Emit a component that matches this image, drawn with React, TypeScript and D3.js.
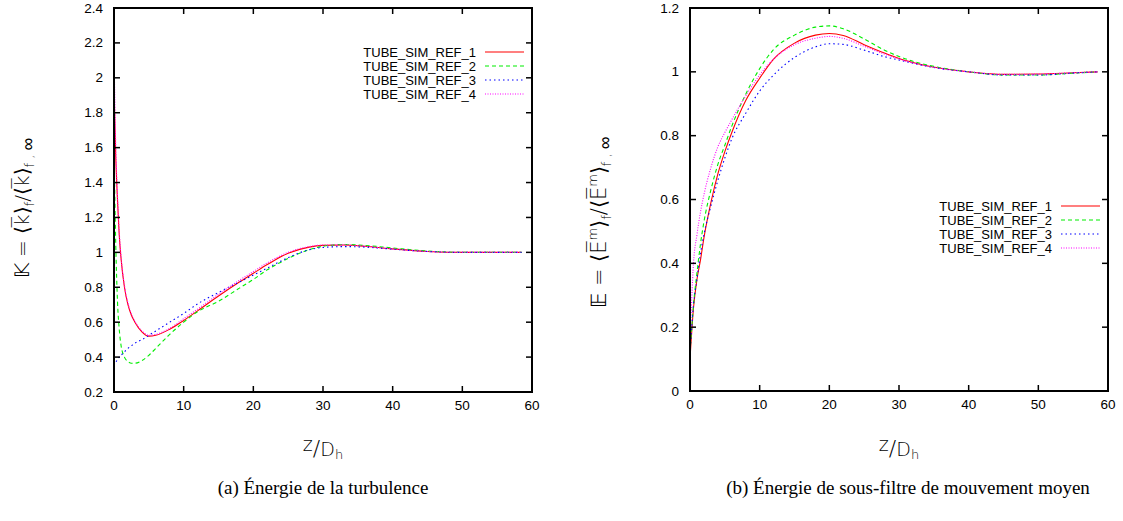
import React from "react";
import * as d3 from "d3";

// ---------- data ----------
const seriesNames = ["TUBE_SIM_REF_1", "TUBE_SIM_REF_2", "TUBE_SIM_REF_3", "TUBE_SIM_REF_4"];

const zK = [0, 0.25, 0.5, 0.75, 1, 1.5, 2, 2.5, 3, 4, 5, 6, 8, 10, 12, 15, 18, 20, 22, 25, 28, 30, 33, 36, 40, 45, 50, 55, 58.5];
const kRef1 = [1.95, 1.55, 1.3, 1.1, 0.97, 0.8, 0.7, 0.64, 0.6, 0.545, 0.52, 0.525, 0.56, 0.61, 0.665, 0.75, 0.83, 0.88, 0.93, 0.995, 1.03, 1.04, 1.042, 1.035, 1.02, 1.005, 1.0, 1.0, 1.0];
const kRef2 = [1.6, 1.05, 0.72, 0.56, 0.47, 0.4, 0.375, 0.365, 0.365, 0.38, 0.41, 0.45, 0.53, 0.6, 0.66, 0.72, 0.795, 0.845, 0.9, 0.965, 1.015, 1.035, 1.045, 1.04, 1.025, 1.008, 1.0, 1.0, 1.0];
const kRef3 = [0.35, 0.37, 0.385, 0.4, 0.41, 0.43, 0.45, 0.465, 0.48, 0.5, 0.525, 0.55, 0.6, 0.65, 0.705, 0.77, 0.83, 0.87, 0.91, 0.97, 1.015, 1.028, 1.033, 1.03, 1.018, 1.005, 1.0, 1.0, 1.0];
const kRef4 = [2.15, 1.62, 1.33, 1.12, 0.98, 0.81, 0.71, 0.645, 0.605, 0.55, 0.525, 0.53, 0.565, 0.62, 0.675, 0.76, 0.84, 0.89, 0.94, 1.0, 1.033, 1.042, 1.043, 1.035, 1.02, 1.005, 1.0, 1.0, 1.0];

const zE = [0, 0.5, 1, 1.5, 2, 3, 4, 5, 6, 8, 10, 12, 15, 18, 20, 22, 25, 28, 30, 33, 36, 40, 45, 50, 55, 58.5];
const eRef1 = [0.1, 0.26, 0.35, 0.41, 0.48, 0.59, 0.68, 0.75, 0.81, 0.91, 0.98, 1.04, 1.09, 1.115, 1.12, 1.114, 1.085, 1.058, 1.042, 1.024, 1.011, 1.0, 0.992, 0.993, 0.997, 1.0];
const eRef2 = [0.12, 0.27, 0.37, 0.46, 0.53, 0.63, 0.71, 0.77, 0.83, 0.93, 1.01, 1.07, 1.115, 1.14, 1.144, 1.135, 1.103, 1.067, 1.048, 1.027, 1.013, 1.0, 0.99, 0.99, 0.996, 1.0];
const eRef3 = [0.12, 0.27, 0.35, 0.43, 0.49, 0.58, 0.66, 0.73, 0.79, 0.87, 0.94, 0.99, 1.045, 1.078, 1.088, 1.086, 1.068, 1.047, 1.037, 1.022, 1.01, 1.0, 0.99, 0.99, 0.996, 1.0];
const eRef4 = [0.15, 0.4, 0.49, 0.56, 0.615, 0.7, 0.765, 0.81, 0.85, 0.925, 0.99, 1.04, 1.085, 1.105, 1.111, 1.105, 1.08, 1.055, 1.04, 1.023, 1.011, 1.0, 0.992, 0.993, 0.997, 1.0];

const xTicks = [0, 10, 20, 30, 40, 50, 60];
const kTicks = [0.2, 0.4, 0.6, 0.8, 1, 1.2, 1.4, 1.6, 1.8, 2, 2.2, 2.4];
const eTicks = [0, 0.2, 0.4, 0.6, 0.8, 1, 1.2];

const captionA = "(a) Énergie de la turbulence";
const captionB = "(b) Énergie de sous-filtre de mouvement moyen";

// ---------- styles ----------
const colors = ["#ff0000", "#00ee00", "#0000ff", "#ff00ff"];
const dashes = ["none", "4,3", "1.5,3", "1,1.5"];
const sans = "'Liberation Sans', Arial, Helvetica, sans-serif";
const serif = "'Liberation Serif', 'Times New Roman', serif";
const mathFont = "'DejaVu Sans', sans-serif";

type PanelProps = {
  x0: number; x1: number; y0: number; y1: number;
  yDomain: [number, number]; yTicks: number[];
  z: number[]; series: number[][];
  legendX: number; legendY: number;
  clipId: string;
};

function fmt(v: number) {
  return String(+v.toFixed(1));
}

function Panel(p: PanelProps) {
  const xs = d3.scaleLinear().domain([0, 60]).range([p.x0, p.x1]);
  const ys = d3.scaleLinear().domain(p.yDomain).range([p.y1, p.y0]);
  const line = d3
    .line<[number, number]>()
    .x((d) => xs(d[0]))
    .y((d) => ys(d[1]))
    .curve(d3.curveMonotoneX);
  const tl = 6;
  return (
    <g>
      <defs>
        <clipPath id={p.clipId}>
          <rect x={p.x0} y={p.y0} width={p.x1 - p.x0} height={p.y1 - p.y0} />
        </clipPath>
      </defs>
      <g clipPath={`url(#${p.clipId})`}>
        {p.series.map((s, i) => (
          <path
            key={i}
            d={line(p.z.map((zz, j) => [zz, s[j]] as [number, number])) || ""}
            fill="none"
            stroke={colors[i]}
            strokeWidth={1.1}
            strokeDasharray={dashes[i]}
          />
        ))}
      </g>
      {xTicks.map((t) => (
        <g key={"x" + t}>
          <line x1={xs(t)} x2={xs(t)} y1={p.y1} y2={p.y1 - tl} stroke="#000" strokeWidth={1.5} />
          <line x1={xs(t)} x2={xs(t)} y1={p.y0} y2={p.y0 + tl} stroke="#000" strokeWidth={1.5} />
          <text x={xs(t)} y={p.y1 + 18} textAnchor="middle" fontFamily={sans} fontSize={13.5}>
            {t}
          </text>
        </g>
      ))}
      {p.yTicks.map((t) => (
        <g key={"y" + t}>
          <line x1={p.x0} x2={p.x0 + tl} y1={ys(t)} y2={ys(t)} stroke="#000" strokeWidth={1.5} />
          <line x1={p.x1} x2={p.x1 - tl} y1={ys(t)} y2={ys(t)} stroke="#000" strokeWidth={1.5} />
          <text x={p.x0 - 11} y={ys(t) + 4.5} textAnchor="end" fontFamily={sans} fontSize={13.5}>
            {fmt(t)}
          </text>
        </g>
      ))}
      <rect x={p.x0} y={p.y0} width={p.x1 - p.x0} height={p.y1 - p.y0} fill="none" stroke="#000" strokeWidth={2} />
      {seriesNames.map((n, i) => (
        <g key={n}>
          <text x={p.legendX} y={p.legendY + i * 14 + 4.5} textAnchor="end" fontFamily={sans} fontSize={13}>
            {n}
          </text>
          <line
            x1={p.legendX + 9}
            x2={p.legendX + 48}
            y1={p.legendY + i * 14}
            y2={p.legendY + i * 14}
            stroke={colors[i]}
            strokeWidth={1.1}
            strokeDasharray={dashes[i]}
          />
        </g>
      ))}
    </g>
  );
}

function XLabel({ cx, y }: { cx: number; y: number }) {
  return (
    <text x={cx} y={y} textAnchor="middle" fontFamily={mathFont} fontSize={19} fontWeight={300}>
      <tspan dy={-5}>z</tspan>
      <tspan dy={5} fontSize={22}>/</tspan>
      <tspan>D</tspan>
      <tspan fontSize={13} dy={3}>h</tspan>
    </text>
  );
}

export default function App() {
  return (
    <svg
      width={1123}
      height={521}
      style={{ position: "absolute", left: 0, top: 0, background: "#fff" }}
    >
      <rect width={1123} height={521} fill="#fff" />
      <Panel
        x0={114} x1={532} y0={8} y1={392}
        yDomain={[0.2, 2.4]} yTicks={kTicks}
        z={zK} series={[kRef1, kRef2, kRef3, kRef4]}
        legendX={476} legendY={52} clipId="clipK"
      />
      <Panel
        x0={690} x1={1108} y0={8} y1={391}
        yDomain={[0, 1.2]} yTicks={eTicks}
        z={zE} series={[eRef1, eRef2, eRef3, eRef4]}
        legendX={1052} legendY={206} clipId="clipE"
      />
      <text transform="translate(29,208) rotate(-90)" textAnchor="middle" fontFamily={mathFont} fontSize={20} fontWeight={300}>
        <tspan>𝕂 = ⟨k̅⟩</tspan>
        <tspan fontSize={13} dy={5}>f</tspan>
        <tspan dy={-5}>/⟨k̅⟩</tspan>
        <tspan fontSize={13} dy={5}>f , </tspan>
        <tspan fontSize={18}>∞</tspan>
      </text>
      <text transform="translate(606,222) rotate(-90)" textAnchor="middle" fontFamily={mathFont} fontSize={21} fontWeight={300}>
        <tspan>𝔼 = ⟨E̅</tspan>
        <tspan fontSize={13} dy={-9}>m</tspan>
        <tspan dy={9}>⟩</tspan>
        <tspan fontSize={13} dy={5}>f</tspan>
        <tspan dy={-5}>/⟨E̅</tspan>
        <tspan fontSize={13} dy={-9}>m</tspan>
        <tspan dy={9}>⟩</tspan>
        <tspan fontSize={13} dy={5}>f , </tspan>
        <tspan fontSize={18}>∞</tspan>
      </text>
      <XLabel cx={323} y={456} />
      <XLabel cx={899} y={456} />
      <text x={323} y={494} textAnchor="middle" fontFamily={serif} fontSize={19}>
        {captionA}
      </text>
      <text x={908} y={494} textAnchor="middle" fontFamily={serif} fontSize={19}>
        {captionB}
      </text>
    </svg>
  );
}
